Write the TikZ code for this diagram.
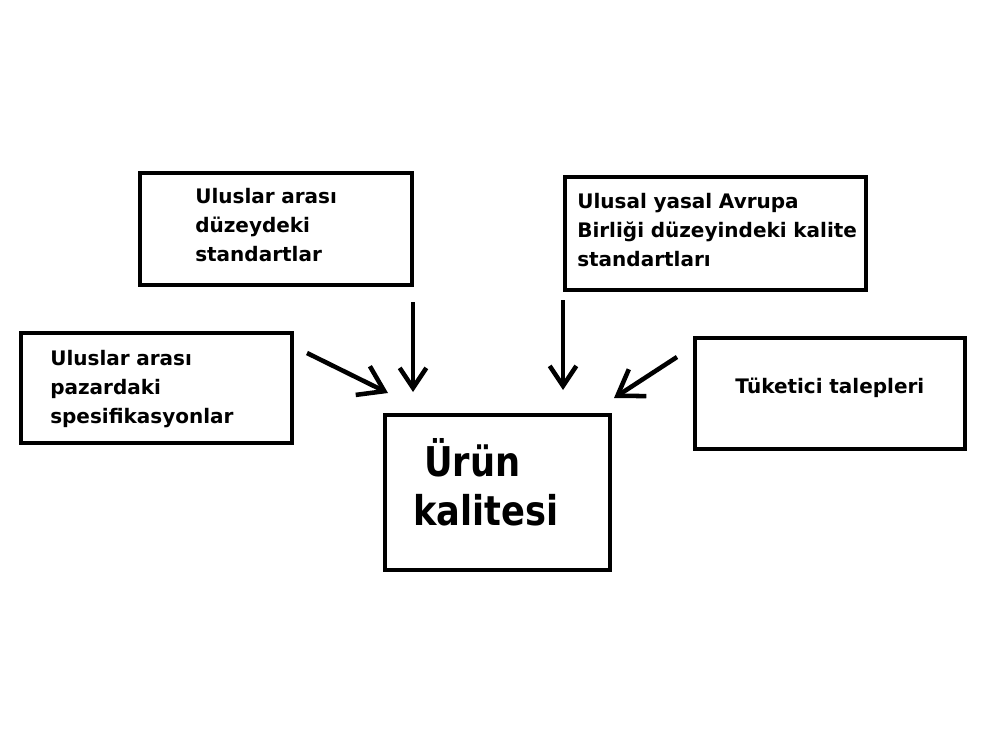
\documentclass[tikz,border=0pt]{standalone}
\usepackage{fontspec}
\setmainfont{DejaVu Sans}
\newfontfamily\centerfont[FakeStretch=0.86]{DejaVu Sans}
\usetikzlibrary{arrows.meta}
\begin{document}
\begin{tikzpicture}[x=0.75pt,y=-0.75pt,
  box/.style={draw=black, line width=3.5pt, rectangle, inner sep=0pt},
  txt/.style={inner sep=0pt, anchor=base west, align=left, text width=260pt,
    font=\fontsize{15pt}{21.75pt}\selectfont\bfseries},
  bigtxt/.style={inner sep=0pt, anchor=base west,
    font=\centerfont\fontsize{30.75pt}{37pt}\selectfont\bfseries},
  arr/.style={line width=3.4pt, -{Straight Barb[length=15pt,width=20pt,line width=3.4pt]}},
  darr/.style={line width=3.4pt, -{Straight Barb[length=18pt,width=24pt,line width=3.4pt]}}
]
\fill[white] (0,0) rectangle (1000,750);
\useasboundingbox (0,0) rectangle (1000,750);

% boxes
\node[box, minimum width=204pt, minimum height=84pt] (tl) at (276,229) {};
\node[box, minimum width=225.75pt, minimum height=84.75pt] (tr) at (715.5,233.5) {};
\node[box, minimum width=203.25pt, minimum height=82.5pt] (lf) at (156.5,388) {};
\node[box, minimum width=202.5pt, minimum height=83.25pt] (rt) at (830,393.5) {};
\node[box, minimum width=168.75pt, minimum height=116.25pt] (ct) at (497.5,492.5) {};

% texts
\node[txt] (tltxt) at (195,203) {Uluslar arası\\düzeydeki\\standartlar};
\node[txt] (trtxt) at (577,208) {Ulusal yasal Avrupa\\Birliği düzeyindeki kalite\\standartları};
\node[txt] (lftxt) at (50,365) {Uluslar arası\\pazardaki\\spesifikasyonlar};
\node[txt] (rttxt) at (735,393) {Tüketici talepleri};
\node[bigtxt] (ct1) at (424,476) {Ürün};
\node[bigtxt] (ct2) at (413,525) {kalitesi};

% arrow end points
\coordinate (a1s) at (307,353);
\coordinate (a1e) at (388,393);
\coordinate (a2s) at (413,302);
\coordinate (a2e) at (413,392);
\coordinate (a3s) at (563,300);
\coordinate (a3e) at (563,390);
\coordinate (a4s) at (677,357);
\coordinate (a4e) at (614,398);

\draw[darr] (a1s) -- (a1e);
\draw[arr] (a2s) -- (a2e);
\draw[arr] (a3s) -- (a3e);
\draw[darr] (a4s) -- (a4e);
\end{tikzpicture}
\end{document}
